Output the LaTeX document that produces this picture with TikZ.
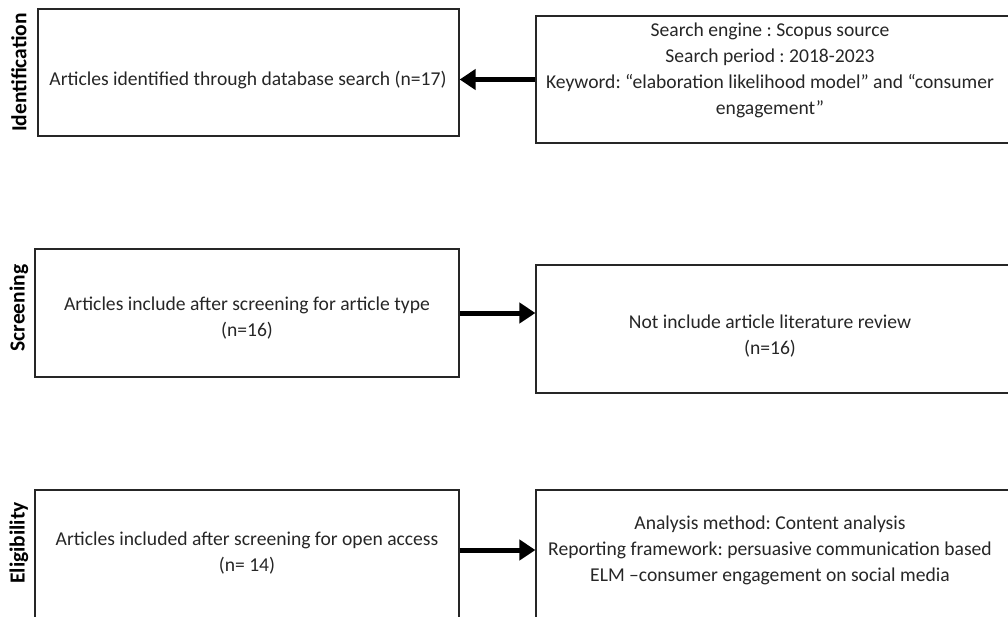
\documentclass[tikz,border=0pt]{standalone}
\usepackage{fontspec}
\setmainfont{Carlito}
\frenchspacing
\usetikzlibrary{arrows.meta}
\tikzset{
  box/.style={draw=black!85, line width=1.2pt, inner sep=0pt},
  txt/.style={inner sep=0pt, align=center, text=black!85, font=\fontsize{19.6}{26}\selectfont},
  lab/.style={inner sep=0pt, rotate=90, font=\fontsize{21.5}{24}\selectfont\bfseries},
  arr/.style={line width=5pt, -{Triangle[length=16pt,width=20pt]}}
}
\begin{document}
\begin{tikzpicture}[x=1pt,y=-1pt]
\useasboundingbox (0,0) rectangle (1008,616);
\clip (0,0) rectangle (1008,616);
% boxes
\node[box, minimum width=421pt, minimum height=127pt] (b1) at (248.5,72.5) {};
\node[box, minimum width=479pt, minimum height=127pt] (b2) at (775.5,79.5) {};
\node[box, minimum width=424pt, minimum height=128pt] (b3) at (247,313) {};
\node[box, minimum width=479pt, minimum height=128pt] (b4) at (775.5,329) {};
\node[box, minimum width=424pt, minimum height=135pt] (b5) at (247,557.5) {};
\node[box, minimum width=479pt, minimum height=135pt] (b6) at (775.5,557.5) {};
% texts
\node[txt] (t1) at (248,80) {Articles identified through database search (n=17)};
\node[txt] (t2) at (770,70) {Search engine : Scopus source\\Search period : 2018-2023\\Keyword: “elaboration likelihood model” and “consumer\\engagement”};
\node[txt] (t3) at (247,318) {Articles include after screening for article type\\(n=16)};
\node[txt] (t4) at (770,336) {Not include article literature review\\(n=16)};
\node[txt] (t5) at (247,553) {Articles included after screening for open access\\(n= 14)};
\node[txt] (t6) at (770,550) {Analysis method: Content analysis\\Reporting framework: persuasive communication based\\ELM –consumer engagement on social media};
% side labels
\node[lab] (l1) at (19,72.5) {Identification};
\node[lab] (l2) at (19,308) {Screening};
\node[lab] (l3) at (19,543) {Eligibility};
% arrows
\draw[arr] (b2.west) -- (b2.west -| b1.east);
\draw[arr] (b3.east) -- (b3.east -| b4.west);
\draw[arr] (b5.east |- t6.center) -- (b6.west |- t6.center);
\end{tikzpicture}
\end{document}
